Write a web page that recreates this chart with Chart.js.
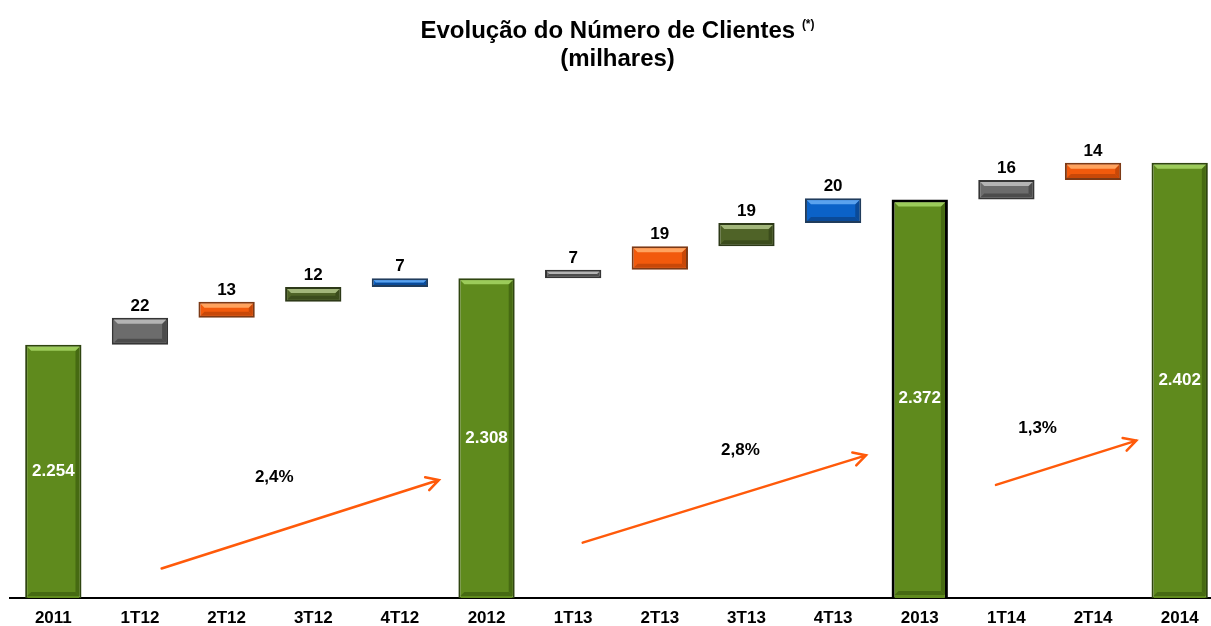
<!DOCTYPE html>
<html>
<head>
<meta charset="utf-8">
<script src="https://cdn.jsdelivr.net/npm/chart.js@4"></script>
<style>
html, body { margin: 0; padding: 0; overflow: hidden; background: #fff; }
#wrap { position: relative; width: 1211px; height: 626px; overflow: hidden; }
#grafico { position: absolute; left: 0; top: 0; }
#titulo {
    position: absolute; left: 12px; top: 16px; width: 1211px; text-align: center;
    font-family: "Liberation Sans", Arial, sans-serif; font-weight: bold;
    font-size: 24px; line-height: 28px; color: #000;
}
#titulo sup { font-size: 12px; vertical-align: top; position: relative; top: -6px; }
</style>
</head>
<body>
<div id="wrap">
    <canvas id="grafico" width="1223" height="626"></canvas>
    <div id="titulo">Evolução do Número de Clientes <sup>(*)</sup><br>(milhares)</div>
</div>
<script>
const categorias = ['2011', '1T12', '2T12', '3T12', '4T12', '2012', '1T13', '2T13', '3T13', '4T13', '2013', '1T14', '2T14', '2014'];
const totais = [2254, null, null, null, null, 2308, null, null, null, null, 2372, null, null, 2402];
const variacoes = [null, 22, 13, 12, 7, null, 7, 19, 19, 20, null, 16, 14, null];
const tipos = ['total', 'cinza', 'laranja', 'oliva', 'azul', 'total', 'cinza', 'laranja', 'oliva', 'azul', 'total', 'cinza', 'laranja', 'total'];
const crescimento = ['2,4%', '2,8%', '1,3%'];

// cores de cada tipo de barra
const paleta = {
    total:   { fill: '#5f8a1d', borda: '#2f4510', claro: '#9ccb5a', escuro: '#466a12' },
    cinza:   { fill: '#6c6c6c', borda: '#353535', claro: '#b4b4b4', escuro: '#4c4c4c' },
    laranja: { fill: '#f25a0c', borda: '#7c3a16', claro: '#ffa35e', escuro: '#c84808' },
    oliva:   { fill: '#4f6327', borda: '#2d3918', claro: '#a2b67a', escuro: '#3b4c1c' },
    azul:    { fill: '#0b62c8', borda: '#203c5c', claro: '#5aa2ee', escuro: '#0a4a98' }
};

// barras flutuantes da cascata
let acumulado = 0;
const dadosBarras = categorias.map((c, i) => {
    if (totais[i] !== null) {
        acumulado = totais[i];
        return totais[i];
    }
    const inicio = acumulado;
    acumulado += variacoes[i];
    return [inicio, acumulado];
});

// setas de crescimento (posições em coordenadas do gráfico: índice da categoria, valor)
const setas = [
    { de: [1.25, 2072], para: [4.45, 2144], rotulo: [2.55, 2146] },
    { de: [6.11, 2093], para: [9.38, 2164], rotulo: [7.93, 2168] },
    { de: [10.88, 2140], para: [12.5, 2176], rotulo: [11.36, 2186] }
];

const fonte = '"Liberation Sans", Arial, sans-serif';

function formatar(n) {
    return String(n).replace(/\B(?=(\d{3})+(?!\d))/g, '.');
}

function caixa(chart, bar) {
    const { x, y, base, width } = bar.getProps(['x', 'y', 'base', 'width'], true);
    const fundo = chart.chartArea.bottom;
    return {
        x: x,
        width: width,
        top: Math.min(y, base),
        bottom: Math.min(Math.max(y, base), fundo)
    };
}

const bisel = {
    id: 'bisel',
    afterDatasetsDraw(chart) {
        const ctx = chart.ctx;
        chart.getDatasetMeta(0).data.forEach((bar, i) => {
            const k = caixa(chart, bar);
            const c = paleta[tipos[i]];
            const b = i === 10 ? 3 : 2;
            const l = k.x - k.width / 2 + b, r = k.x + k.width / 2 - b;
            const t = k.top + b, bt = k.bottom - b;
            const e = Math.min(4, (bt - t) / 2);
            ctx.save();
            // borda inferior e direita mais escuras
            ctx.fillStyle = c.escuro;
            ctx.beginPath();
            ctx.moveTo(l, bt); ctx.lineTo(r, bt); ctx.lineTo(r - e, bt - e); ctx.lineTo(l + e, bt - e);
            ctx.closePath(); ctx.fill();
            ctx.beginPath();
            ctx.moveTo(r, t); ctx.lineTo(r, bt); ctx.lineTo(r - e, bt - e); ctx.lineTo(r - e, t + e);
            ctx.closePath(); ctx.fill();
            // brilho no topo
            ctx.fillStyle = c.claro;
            ctx.beginPath();
            ctx.moveTo(l, t); ctx.lineTo(r, t); ctx.lineTo(r - e, t + e); ctx.lineTo(l + e, t + e);
            ctx.closePath(); ctx.fill();
            ctx.restore();
        });
    }
};

const rotulos = {
    id: 'rotulos',
    afterDraw(chart) {
        const ctx = chart.ctx;
        const xs = chart.scales.x, ys = chart.scales.y;
        ctx.save();
        ctx.font = 'bold 17px ' + fonte;
        ctx.textAlign = 'center';
        chart.getDatasetMeta(0).data.forEach((bar, i) => {
            const k = caixa(chart, bar);
            if (totais[i] !== null) {
                ctx.fillStyle = '#fff';
                ctx.textBaseline = 'middle';
                ctx.fillText(formatar(totais[i]), k.x, (k.top + k.bottom) / 2);
            } else {
                ctx.fillStyle = '#000';
                ctx.textBaseline = 'alphabetic';
                ctx.fillText(String(variacoes[i]), k.x, k.top - 7);
            }
        });

        // setas laranja
        ctx.strokeStyle = '#ff5a0a';
        ctx.lineWidth = 2.5;
        ctx.lineCap = 'round';
        setas.forEach((s, n) => {
            const x1 = xs.getPixelForValue(s.de[0]), y1 = ys.getPixelForValue(s.de[1]);
            const x2 = xs.getPixelForValue(s.para[0]), y2 = ys.getPixelForValue(s.para[1]);
            const ang = Math.atan2(y2 - y1, x2 - x1);
            ctx.beginPath();
            ctx.moveTo(x1, y1); ctx.lineTo(x2, y2);
            ctx.moveTo(x2 - 14 * Math.cos(ang - 0.5), y2 - 14 * Math.sin(ang - 0.5));
            ctx.lineTo(x2, y2);
            ctx.lineTo(x2 - 14 * Math.cos(ang + 0.5), y2 - 14 * Math.sin(ang + 0.5));
            ctx.stroke();
            ctx.fillStyle = '#000';
            ctx.textBaseline = 'middle';
            ctx.fillText(crescimento[n], xs.getPixelForValue(s.rotulo[0]), ys.getPixelForValue(s.rotulo[1]));
        });
        ctx.restore();
    }
};

new Chart(document.getElementById('grafico'), {
    type: 'bar',
    data: {
        labels: categorias,
        datasets: [{
            data: dadosBarras,
            backgroundColor: tipos.map(t => paleta[t].fill),
            borderColor: tipos.map((t, i) => i === 10 ? '#000' : paleta[t].borda),
            borderWidth: tipos.map((t, i) => i === 10 ? 3 : 2),
            borderSkipped: false,
            barPercentage: 0.65,
            categoryPercentage: 1
        }]
    },
    options: {
        responsive: false,
        animation: false,
        layout: { padding: { top: 100, left: 10, right: 0, bottom: 0 } },
        plugins: { legend: { display: false }, tooltip: { enabled: false } },
        scales: {
            x: {
                grid: { display: false, drawTicks: false },
                border: { display: true, color: '#000', width: 2 },
                ticks: { color: '#000', font: { family: fonte, size: 17, weight: 'bold' }, padding: 10 },
                afterFit(scale) { scale.height = 28; }
            },
            y: { display: false, min: 2048, max: 2453 }
        }
    },
    plugins: [bisel, rotulos]
});
</script>
</body>
</html>
